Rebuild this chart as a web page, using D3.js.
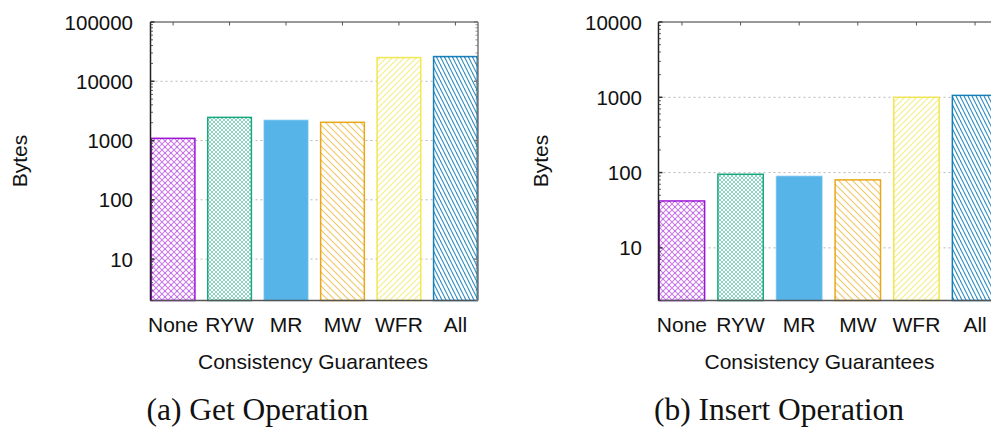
<!DOCTYPE html>
<html>
<head>
<meta charset="utf-8">
<script src="https://cdn.jsdelivr.net/npm/d3@7"></script>
<style>
  html, body { margin: 0; padding: 0; background: #fff; }
  svg { display: block; }
  .tick-label, .axis-title { font-family: "Liberation Sans", Arial, sans-serif; fill: #111; }
  .caption { font-family: "Liberation Serif", "DejaVu Serif", serif; fill: #111; }
</style>
</head>
<body>
<svg id="fig" width="991" height="432"></svg>
<script>
// Consistency guarantee levels shown on both panels
const categories = ["None", "RYW", "MR", "MW", "WFR", "All"];

// Bytes transferred per guarantee level
const getValues = [1090, 2460, 2190, 2030, 25100, 26100];
const insertValues = [42, 95, 89, 80, 1000, 1060];

// Labelled decades on the log axes
const getTicks = [10, 100, 1000, 10000, 100000];
const insertTicks = [10, 100, 1000, 10000];

const seriesColors = ["#9400d3", "#009e73", "#56b4e9", "#e69f00", "#f0e442", "#0072b2"];
const fillKinds = ["cross", "denseCross", "solid", "back", "fwd", "steepBack"];

const xTitle = "Consistency Guarantees";
const yTitle = "Bytes";
const captions = ["(a) Get Operation", "(b) Insert Operation"];

const svg = d3.select("#fig");
const defs = svg.append("defs");

// Hatch patterns, one per bar
function makePattern(id, kind, color) {
  if (kind === "solid") return;
  let w = 6, h = 6, paths = [], sw = 1.1, op = 0.6;
  if (kind === "cross") { w = h = 6; paths = [`M0,0L${w},${h}`, `M${w},0L0,${h}`]; op = 0.5; }
  if (kind === "denseCross") { w = h = 4; paths = [`M0,0L${w},${h}`, `M${w},0L0,${h}`]; sw = 1; op = 0.45; }
  if (kind === "back") { w = h = 7; paths = [`M0,0L${w},${h}`, `M${w - 1},-1L${w + 1},1`, `M-1,${h - 1}L1,${h + 1}`]; op = 0.6; }
  if (kind === "fwd") { w = h = 6; paths = [`M0,${h}L${w},0`, `M-1,1L1,-1`, `M${w - 1},${h + 1}L${w + 1},${h - 1}`]; op = 0.65; }
  if (kind === "steepBack") { w = 4; h = 8; paths = [`M0,0L${w},${h}`, `M${-w},0L0,${h}`, `M${w},0L${2 * w},${h}`]; sw = 1.1; op = 0.8; }
  const p = defs.append("pattern")
    .attr("id", id).attr("patternUnits", "userSpaceOnUse")
    .attr("width", w).attr("height", h);
  p.append("rect").attr("width", w).attr("height", h).attr("fill", "#fff");
  paths.forEach(d => p.append("path").attr("d", d)
    .attr("stroke", color).attr("stroke-width", sw).attr("stroke-opacity", op)
    .attr("fill", "none"));
}
categories.forEach((c, i) => makePattern("pat" + i, fillKinds[i], seriesColors[i]));

const panels = [
  { values: getValues, ticks: getTicks, yMax: 100000,
    left: 150.5, right: 478, top: 22, bottom: 300.5,
    labelRight: 133, yTitleX: 20, xTitleX: 313, captionX: 257.5 },
  { values: insertValues, ticks: insertTicks, yMax: 10000,
    left: 658.5, right: 998.5, top: 22, bottom: 300.5,
    labelRight: 642, yTitleX: 541, xTitleX: 819.5, captionX: 779 }
];

panels.forEach((P, pi) => {
  const g = svg.append("g");
  const x = d3.scaleBand().domain(categories).range([P.left, P.right])
    .paddingInner(0.2).paddingOuter(0);
  const y = d3.scaleLog().domain([2, P.yMax]).range([P.bottom, P.top]);

  // dotted grid at labelled decades
  g.selectAll(".grid").data(P.ticks.filter(t => t < P.yMax)).join("line")
    .attr("x1", P.left).attr("x2", P.right)
    .attr("y1", d => y(d)).attr("y2", d => y(d))
    .attr("stroke", "#b8b8b8").attr("stroke-width", 1).attr("stroke-dasharray", "2,3");

  // bars
  g.selectAll(".bar").data(categories).join("rect")
    .attr("x", d => x(d) + 0.75)
    .attr("width", x.bandwidth() - 1.5)
    .attr("y", (d, i) => y(P.values[i]))
    .attr("height", (d, i) => P.bottom - y(P.values[i]))
    .attr("fill", (d, i) => fillKinds[i] === "solid" ? seriesColors[i] : `url(#pat${i})`)
    .attr("stroke", (d, i) => seriesColors[i])
    .attr("stroke-width", 1.5)
    .attr("stroke-opacity", (d, i) => fillKinds[i] === "solid" ? 0.6 : 0.9);

  // frame
  g.append("line").attr("x1", P.left).attr("x2", P.right).attr("y1", P.top).attr("y2", P.top)
    .attr("stroke", "#777").attr("stroke-width", 1.5);
  g.append("line").attr("x1", P.right).attr("x2", P.right).attr("y1", P.top).attr("y2", P.bottom)
    .attr("stroke", "#777").attr("stroke-width", 1.5);
  g.append("line").attr("x1", P.left).attr("x2", P.right).attr("y1", P.bottom).attr("y2", P.bottom)
    .attr("stroke", "#555").attr("stroke-width", 1.5);
  g.append("line").attr("x1", P.left).attr("x2", P.left).attr("y1", P.top).attr("y2", P.bottom)
    .attr("stroke", "#222").attr("stroke-width", 1.5);

  // y ticks (major + minor), inward on both sides
  const minor = y.ticks().filter(t => t >= 2 && t <= P.yMax);
  g.selectAll(".ytk").data(minor).join("line")
    .attr("x1", P.left).attr("x2", d => P.left + (P.ticks.includes(d) ? 4 : 2.5))
    .attr("y1", d => y(d)).attr("y2", d => y(d))
    .attr("stroke", "#333").attr("stroke-width", d => P.ticks.includes(d) ? 1.5 : 0.8);
  g.selectAll(".ytk2").data(minor).join("line")
    .attr("x1", P.right).attr("x2", d => P.right - (P.ticks.includes(d) ? 4 : 2.5))
    .attr("y1", d => y(d)).attr("y2", d => y(d))
    .attr("stroke", "#777").attr("stroke-width", d => P.ticks.includes(d) ? 1.5 : 0.8);

  // x ticks along the top
  g.selectAll(".xtk").data(categories).join("line")
    .attr("x1", d => x(d) + x.bandwidth() / 2).attr("x2", d => x(d) + x.bandwidth() / 2)
    .attr("y1", P.top).attr("y2", P.top + 3.5)
    .attr("stroke", "#555").attr("stroke-width", 1);

  // y labels
  g.selectAll(".ylab").data(P.ticks).join("text")
    .attr("class", "tick-label")
    .attr("x", P.labelRight).attr("y", d => y(d) + 7.5)
    .attr("text-anchor", "end").attr("font-size", 20.5)
    .text(d => d3.format("d")(d));

  // x labels
  g.selectAll(".xlab").data(categories).join("text")
    .attr("class", "tick-label")
    .attr("x", d => x(d) + x.bandwidth() / 2).attr("y", 331.5)
    .attr("text-anchor", "middle").attr("font-size", 21)
    .text(d => d);

  // axis titles
  g.append("text").attr("class", "axis-title")
    .attr("transform", `translate(${P.yTitleX + 7},161) rotate(-90)`)
    .attr("text-anchor", "middle").attr("font-size", 21).text(yTitle);
  g.append("text").attr("class", "axis-title")
    .attr("x", P.xTitleX).attr("y", 369)
    .attr("text-anchor", "middle").attr("font-size", 21).text(xTitle);

  // caption
  g.append("text").attr("class", "caption")
    .attr("x", P.captionX).attr("y", 420)
    .attr("text-anchor", "middle").attr("font-size", 31.5).text(captions[pi]);
});
</script>
</body>
</html>
